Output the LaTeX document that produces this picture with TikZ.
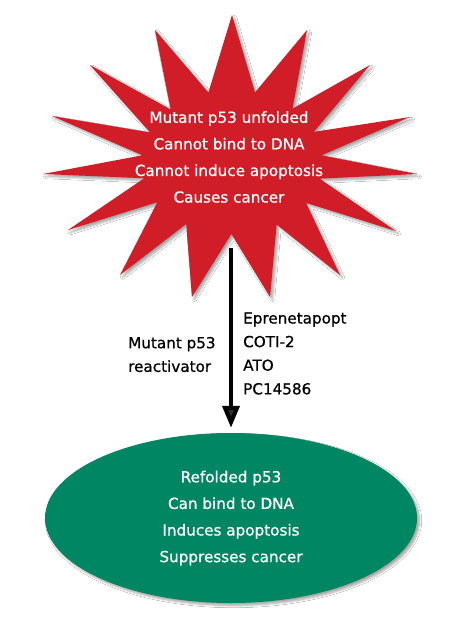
\documentclass[tikz,border=0pt]{standalone}
\usepackage{fontspec}
\setmainfont{DejaVu Sans}
\newfontfamily\medfont{DejaVu Sans}[FakeBold=0.7]
\usetikzlibrary{shapes.geometric,arrows.meta,shadows.blur}
\definecolor{starred}{RGB}{208,29,40}
\definecolor{ellgreen}{RGB}{0,134,99}
\begin{document}
\begin{tikzpicture}[x=1pt,y=-1pt,
  bigtext/.style={text=white, font=\medfont\fontsize{15.2}{26.6}\selectfont, align=center},
  labeltext/.style={text=black, font=\medfont\fontsize{15.2}{23.6}\selectfont, align=left, inner sep=0pt},
  softshadow/.style={blur shadow={shadow xshift=2.5pt, shadow yshift=-2.5pt, shadow blur steps=6, shadow opacity=35}}]
\fill[white] (0,0) rectangle (474,621);
\useasboundingbox (0,0) rectangle (474,621);
% star burst
\fill[starred, softshadow] (232,15) -- (255,92.4) -- (307,30) -- (292.5,108.7) -- (370,65) -- (313.8,131.9)
  -- (410,117) -- (321.6,155.3) -- (417,174) -- (319.6,178.6) -- (396,231) -- (306.1,202.9)
  -- (340,275) -- (276.6,224.5) -- (270,297) -- (231.4,234) -- (192,297) -- (186.2,224)
  -- (120,275) -- (157.3,202.2) -- (68,230) -- (144.3,178.2) -- (43,174) -- (142.4,155.3)
  -- (52,116) -- (150,132.4) -- (90,65) -- (170.6,109.3) -- (155,30) -- (208.4,92.5) -- cycle;
\node[bigtext] (star) at (229,157) {Mutant p53 unfolded\\Cannot bind to DNA\\Cannot induce apoptosis\\Causes cancer};
% ellipse
\node[ellipse, fill=ellgreen, minimum width=372pt, minimum height=170pt, inner sep=0pt, softshadow, bigtext] (ell) at (231,518)
  {Refolded p53\\Can bind to DNA\\Induces apoptosis\\Suppresses cancer};
% arrow
\coordinate (astart) at (231,248);
\draw[line width=4pt, -{Triangle[width=17pt,length=22pt]}, shorten >=5pt] (astart) -- (astart |- ell.north);
% labels
\node[labeltext, anchor=west] (lableft) at (128,354.5) {Mutant p53\\reactivator};
\node[labeltext, anchor=west] (labright) at (243,353.5) {Eprenetapopt\\COTI-2\\ATO\\PC14586};
\end{tikzpicture}
\end{document}
